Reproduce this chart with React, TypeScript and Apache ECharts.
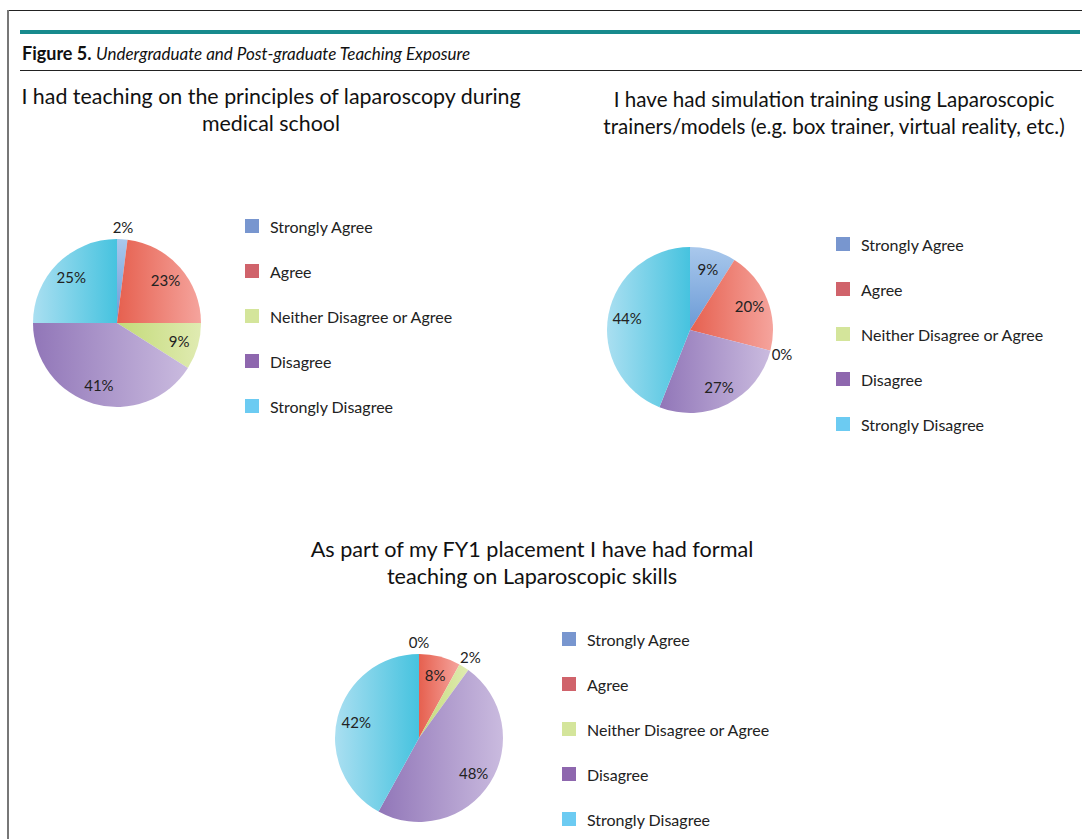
import React, { useEffect, useRef } from "react";
import * as echarts from "echarts";

const categories = [
  "Strongly Agree",
  "Agree",
  "Neither Disagree or Agree",
  "Disagree",
  "Strongly Disagree",
];

const medicalSchoolValues = [2, 23, 9, 41, 25];
const simulationValues = [9, 20, 0, 27, 44];
const fy1Values = [0, 8, 2, 48, 42];

const chartTitles = [
  "I had teaching on the principles of laparoscopy during\nmedical school",
  "I have had simulation training using Laparoscopic\ntrainers/models (e.g. box trainer, virtual reality, etc.)",
  "As part of my FY1 placement I have had formal\nteaching on Laparoscopic skills",
];

const captionBold = "Figure 5.";
const captionItalic = "Undergraduate and Post-graduate Teaching Exposure";

// gradient per category: [x, y, x2, y2, startColor, endColor]
const sliceGradients: [number, number, number, number, string, string][] = [
  [0, 1, 0, 0, "#6a9ad6", "#a9c8ec"],
  [0, 0, 1, 0, "#e6604f", "#f5a49d"],
  [0, 0, 1, 0, "#c3da78", "#e0ebb2"],
  [0, 0, 1, 0, "#9176b8", "#cabbdf"],
  [0, 0, 1, 0, "#aadff1", "#46c3df"],
];

const legendColors = ["#7896cf", "#d0636b", "#d4e59b", "#8e67ae", "#6ccbf2"];

const FONT = "Lato, 'Noto Sans', sans-serif";

function gradient(i: number) {
  const g = sliceGradients[i];
  return new echarts.graphic.LinearGradient(g[0], g[1], g[2], g[3], [
    { offset: 0, color: g[4] },
    { offset: 1, color: g[5] },
  ]);
}

function pieSeries(values: number[], center: [number, number], radius: number) {
  const data = values.map((v, i) => ({
    name: categories[i],
    value: v,
    itemStyle: { color: gradient(i) },
  }));
  const labelData = values.map((v, i) => ({
    name: categories[i],
    value: v,
    label: { position: v <= 2 ? "outside" : "inside" },
  }));
  return [
    {
      type: "pie",
      center,
      radius,
      startAngle: 90,
      clockwise: true,
      avoidLabelOverlap: false,
      silent: true,
      label: { show: false },
      labelLine: { show: false },
      itemStyle: { borderWidth: 0 },
      emphasis: { disabled: true },
      data,
    },
    {
      type: "pie",
      center,
      radius: [radius * 0.47, radius],
      startAngle: 90,
      clockwise: true,
      avoidLabelOverlap: false,
      silent: true,
      itemStyle: { color: "rgba(0,0,0,0)", borderWidth: 0 },
      emphasis: { disabled: true },
      label: {
        show: true,
        formatter: "{c}%",
        fontFamily: FONT,
        fontSize: 15,
        color: "#222",
        distanceToLabelLine: 0,
      },
      labelLine: { show: false, length: 12, length2: 0 },
      labelLayout: () => ({ align: "center" }),
      data: labelData,
    },
  ];
}

function legend(left: number, top: number) {
  return {
    orient: "vertical",
    left,
    top,
    padding: 0,
    itemWidth: 14,
    itemHeight: 14,
    itemGap: 29,
    selectedMode: false,
    icon: "rect",
    textStyle: {
      fontFamily: FONT,
      fontSize: 16,
      color: "#222",
      padding: [0, 0, 0, 6],
    },
    data: categories.map((c, i) => ({
      name: c,
      itemStyle: { color: legendColors[i] },
    })),
  };
}

export default function App() {
  const ref = useRef<HTMLDivElement>(null);
  useEffect(() => {
    if (!ref.current) return;
    const chart = echarts.init(ref.current, null, { renderer: "svg" });
    const titleStyle = {
      fontFamily: FONT,
      fill: "#111",
      textAlign: "center",
      textVerticalAlign: "middle",
      lineHeight: 27,
    };
    chart.setOption({
      animation: false,
      backgroundColor: "#fff",
      legend: [legend(245, 218), legend(836, 236), legend(562, 631)],
      series: [
        ...pieSeries(medicalSchoolValues, [117, 323], 84),
        ...pieSeries(simulationValues, [690, 330], 83),
        ...pieSeries(fy1Values, [419, 738], 84),
      ],
      graphic: [
        {
          type: "line",
          shape: { x1: 8, y1: 10.5, x2: 1082, y2: 10.5 },
          style: { stroke: "#222", lineWidth: 1 },
        },
        {
          type: "line",
          shape: { x1: 8, y1: 10, x2: 8, y2: 839 },
          style: { stroke: "#777", lineWidth: 2 },
        },
        {
          type: "line",
          shape: { x1: 20, y1: 32, x2: 1080, y2: 32 },
          style: { stroke: "#178a8d", lineWidth: 4 },
        },
        {
          type: "line",
          shape: { x1: 20, y1: 70.5, x2: 1082, y2: 70.5 },
          style: { stroke: "#222", lineWidth: 1 },
        },
        {
          type: "text",
          x: 22,
          y: 53,
          style: {
            text: captionBold,
            fontFamily: FONT,
            fontSize: 18,
            fontWeight: "bold",
            fill: "#111",
            textVerticalAlign: "middle",
          },
        },
        {
          type: "text",
          x: 96,
          y: 53,
          style: {
            text: captionItalic,
            fontFamily: FONT,
            fontSize: 17,
            fontStyle: "italic",
            fill: "#111",
            textVerticalAlign: "middle",
          },
        },
        { type: "text", x: 271, y: 109, style: { ...titleStyle, fontSize: 21.4, text: chartTitles[0] } },
        { type: "text", x: 834, y: 112, style: { ...titleStyle, fontSize: 20.6, text: chartTitles[1] } },
        { type: "text", x: 532, y: 562, style: { ...titleStyle, fontSize: 21.6, text: chartTitles[2] } },
      ],
    });
    return () => chart.dispose();
  }, []);
  return (
    <div
      ref={ref}
      style={{ position: "fixed", left: 0, top: 0, width: 1082, height: 839 }}
    />
  );
}
